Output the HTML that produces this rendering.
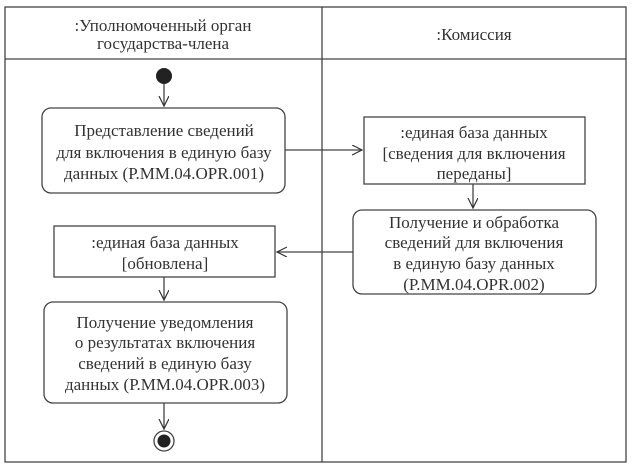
<!DOCTYPE html>
<html><head><meta charset="utf-8"><style>
body{margin:0;background:#fff;}
svg text{font-family:"Liberation Serif","DejaVu Serif",serif;font-size:17px;fill:#333;text-anchor:middle;}
</style></head><body>
<svg width="632" height="469" viewBox="0 0 632 469" xmlns="http://www.w3.org/2000/svg">
<defs><marker id="a" markerWidth="12" markerHeight="12" refX="10" refY="5" orient="auto" markerUnits="userSpaceOnUse"><path d="M0,0 L10,5 L0,10" fill="none" stroke="#333" stroke-width="1.2"/></marker></defs>
<g stroke="#444" stroke-width="1.3" fill="none">
<rect x="5" y="7" width="621" height="455"/>
<line x1="5" y1="59" x2="626" y2="59"/>
<line x1="322" y1="7" x2="322" y2="462"/>
<rect x="42" y="108" width="243" height="85" rx="9"/>
<rect x="364" y="117" width="221" height="67"/>
<rect x="353" y="210" width="243" height="84" rx="9"/>
<rect x="54" y="226" width="221" height="51"/>
<rect x="44" y="302" width="243" height="101" rx="9"/>
<line x1="164" y1="84" x2="164" y2="106" marker-end="url(#a)"/>
<line x1="285" y1="150" x2="362" y2="150" marker-end="url(#a)"/>
<line x1="473" y1="184" x2="473" y2="208" marker-end="url(#a)"/>
<line x1="353" y1="252" x2="277" y2="252" marker-end="url(#a)"/>
<line x1="164" y1="277" x2="164" y2="300" marker-end="url(#a)"/>
<line x1="164" y1="403" x2="164" y2="429" marker-end="url(#a)"/>
<circle cx="164" cy="441" r="10"/>
</g>
<circle cx="164" cy="76" r="8" fill="#222"/>
<circle cx="164" cy="441" r="6.5" fill="#222"/>
<text x="163" y="31">:Уполномоченный орган</text>
<text x="163" y="49">государства-члена</text>
<text x="474" y="40">:Комиссия</text>
<text x="164" y="136">Представление сведений</text>
<text x="164" y="158">для включения в единую базу</text>
<text x="164" y="179">данных (Р.ММ.04.OPR.001)</text>
<text x="474" y="138">:единая база данных</text>
<text x="474" y="159">[сведения для включения</text>
<text x="474" y="179">переданы]</text>
<text x="474" y="228">Получение и обработка</text>
<text x="474" y="248">сведений для включения</text>
<text x="474" y="269">в единую базу данных</text>
<text x="474" y="290">(Р.ММ.04.OPR.002)</text>
<text x="165" y="248">:единая база данных</text>
<text x="165" y="269">[обновлена]</text>
<text x="165" y="328">Получение уведомления</text>
<text x="165" y="348">о результатах включения</text>
<text x="165" y="369">сведений в единую базу</text>
<text x="165" y="390">данных (Р.ММ.04.OPR.003)</text>
</svg>
</body></html>
